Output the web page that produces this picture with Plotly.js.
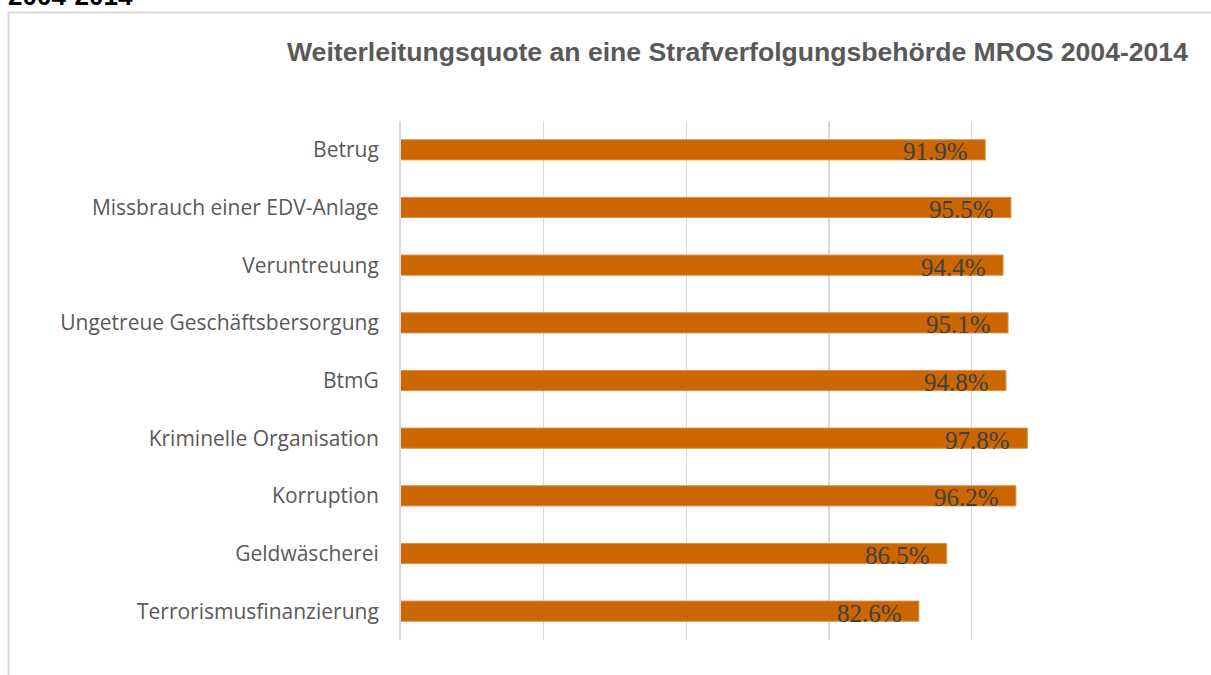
<!DOCTYPE html>
<html>
<head>
<meta charset="utf-8">
<script src="https://cdn.plot.ly/plotly-3.0.1.min.js"></script>
<style>
html,body{margin:0;padding:0;background:#fff;overflow:hidden;}
#chart{width:1211px;height:675px;}
</style>
</head>
<body>
<div id="chart"></div>
<script>
const categories = [
  "Betrug",
  "Missbrauch einer EDV-Anlage",
  "Veruntreuung",
  "Ungetreue Geschäftsbersorgung",
  "BtmG",
  "Kriminelle Organisation",
  "Korruption",
  "Geldwäscherei",
  "Terrorismusfinanzierung"
];
const values = [91.9, 95.5, 94.4, 95.1, 94.8, 97.8, 96.2, 86.5, 82.6];
const valueLabels = ["91.9%", "95.5%", "94.4%", "95.1%", "94.8%", "97.8%", "96.2%", "86.5%", "82.6%"];
const chartTitle = "Weiterleitungsquote an eine Strafverfolgungsbehörde MROS 2004-2014";
const cutHeading = "2004-2014";

const W = 1211, H = 675;
const L = 401, R = 1043, T = 121, B = 640;
const pw = R - L, ph = B - T;
const px = x => (x - L) / pw;
const py = y => (B - y) / ph;

const trace = {
  type: "bar",
  orientation: "h",
  y: categories,
  x: values,
  marker: {color: "#CC6600", line: {color: "#DB8F4A", width: 1}},
  width: 0.35,
  hoverinfo: "skip",
  cliponaxis: false
};

const annotations = categories.map((c, i) => ({
  x: values[i], y: c, xref: "x", yref: "y",
  text: valueLabels[i], showarrow: false,
  xanchor: "right", yanchor: "middle", xshift: -15, yshift: -2,
  font: {family: "Liberation Serif, DejaVu Serif, serif", size: 25, color: "#404040"}
}));

annotations.push({
  x: px(737), y: py(52), xref: "paper", yref: "paper",
  text: "<b>" + chartTitle + "</b>", showarrow: false,
  xanchor: "center", yanchor: "middle",
  font: {family: "Liberation Sans, Arial, sans-serif", size: 26.6, color: "#595959"}
});
annotations.push({
  x: px(6), y: py(13), xref: "paper", yref: "paper",
  text: "<b>" + cutHeading + "</b>", showarrow: false,
  xanchor: "left", yanchor: "bottom",
  font: {family: "Liberation Sans, Arial, sans-serif", size: 26, color: "#000000"}
});

const layout = {
  width: W, height: H,
  margin: {l: L, r: W - R, t: T, b: H - B, pad: 0},
  paper_bgcolor: "#ffffff", plot_bgcolor: "#ffffff",
  showlegend: false,
  bargap: 0.65,
  xaxis: {
    range: [10, 100], tick0: 10, dtick: 20,
    showgrid: true, gridcolor: "#D9D9D9", gridwidth: 1.5,
    showticklabels: false, zeroline: false, showline: false, ticks: ""
  },
  yaxis: {
    autorange: "reversed", type: "category",
    showgrid: false, zeroline: false,
    showline: true, linecolor: "#D9D9D9", linewidth: 2,
    ticks: "", ticklabelstandoff: 16,
    tickfont: {family: "Open Sans, sans-serif", size: 21, color: "#595959"}
  },
  shapes: [
    {type: "line", xref: "paper", yref: "paper", x0: px(8.5), x1: px(8.5), y0: py(12.5), y1: py(690),
     line: {color: "#D9D9D9", width: 2}},
    {type: "line", xref: "paper", yref: "paper", x0: px(8.5), x1: px(1230), y0: py(12.5), y1: py(12.5),
     line: {color: "#D9D9D9", width: 2}}
  ],
  annotations: annotations
};

Plotly.newPlot("chart", [trace], layout, {staticPlot: true, displayModeBar: false});
</script>
</body>
</html>
